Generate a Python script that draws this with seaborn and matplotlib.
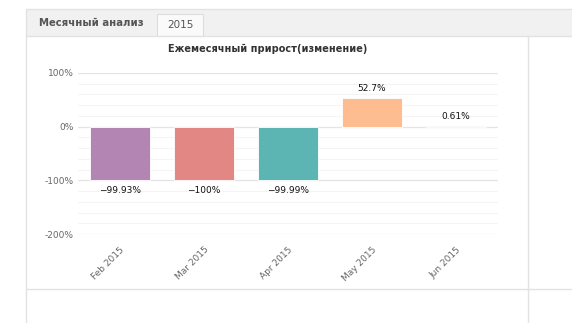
import matplotlib
matplotlib.use("Agg")
import matplotlib.pyplot as plt
from matplotlib.patches import Rectangle
from matplotlib.lines import Line2D
import seaborn as sns
import pandas as pd

months = ["Feb 2015", "Mar 2015", "Apr 2015", "May 2015", "Jun 2015"]
growth = [-99.93, -100, -99.99, 52.7, 0.61]
bar_colors = ["#b385b2", "#e28784", "#5cb4b3", "#febc91", "#a6d8a0"]
y_ticks = [-200, -100, 0, 100]
title = "Ежемесячный прирост(изменение)"
tab_labels = ["Месячный анализ", "2015"]

sns.set_theme(style="white")
plt.rcParams["font.family"] = ["DejaVu Sans"]

fig = plt.figure(figsize=(5.72, 3.23), dpi=100)
W, H = 572, 323

def px(x, y):
    return x / W, 1 - y / H

# page chrome: tab strip and panel borders
fig.patches.append(Rectangle(px(26, 36), (W - 26) / W, 27 / H, transform=fig.transFigure,
                             facecolor="#f1f1f1", edgecolor="none", zorder=0))
fig.patches.append(Rectangle(px(157, 36), 46 / W, 22 / H, transform=fig.transFigure,
                             facecolor="#fafafa", edgecolor="#dddddd", lw=0.8, zorder=1))
for (x0, y0, x1, y1) in [(26, 8.5, 572, 8.5), (26, 36, 572, 36), (26, 8.5, 26, 323),
                         (528, 36, 528, 323), (26, 289, 572, 289)]:
    a, b = px(x0, y0)
    c, d = px(x1, y1)
    fig.lines.append(Line2D([a, c], [b, d], transform=fig.transFigure,
                            color="#e2e2e2", lw=1.0, zorder=2))
fig.text(*px(91, 23), tab_labels[0], ha="center", va="center", fontsize=7.3,
         fontweight="bold", color="#555555")
fig.text(*px(180, 25), tab_labels[1], ha="center", va="center", fontsize=7.5,
         color="#555555")
fig.text(*px(268, 49), title, ha="center", va="center", fontsize=7,
         fontweight="bold", color="#333333")

ax = fig.add_axes([78 / W, 89 / H, 420 / W, 161 / H])
df = pd.DataFrame({"month": months, "growth": growth})
sns.barplot(data=df, x="month", y="growth", hue="month", palette=bar_colors,
            saturation=1, width=0.714, legend=False, ax=ax, edgecolor="white",
            linewidth=0.6, zorder=3)

ax.set_ylim(-200, 100)
ax.set_xlim(-0.5, len(months) - 0.5)
ax.set_yticks(y_ticks)
ax.set_yticklabels([f"{t}%" for t in y_ticks])
ax.set_yticks(range(-180, 100, 20), minor=True)
ax.yaxis.grid(True, which="major", color="#e4e4e4", lw=0.9, zorder=0)
ax.yaxis.grid(True, which="minor", color="#f4f4f4", lw=0.8, zorder=0)
ax.set_axisbelow(True)
for s in ax.spines.values():
    s.set_visible(False)
ax.set_xlabel("")
ax.set_ylabel("")
ax.tick_params(axis="y", which="both", length=0, labelsize=6.5, labelcolor="#666666", pad=3)
ax.tick_params(axis="x", length=0, labelsize=6.5, labelcolor="#666666", pad=8)
for lbl in ax.get_xticklabels():
    lbl.set_rotation(45)
    lbl.set_ha("right")
    lbl.set_rotation_mode("anchor")

for i, v in enumerate(growth):
    txt = f"{v:g}%".replace("-", "−")
    if v < 0:
        ax.annotate(txt, (i, v), xytext=(0, -4), textcoords="offset points",
                    ha="center", va="top", fontsize=6.5, color="#111111")
    else:
        ax.annotate(txt, (i, v), xytext=(0, 4), textcoords="offset points",
                    ha="center", va="bottom", fontsize=6.5, color="#111111")

fig.savefig("out.png", dpi=100)
